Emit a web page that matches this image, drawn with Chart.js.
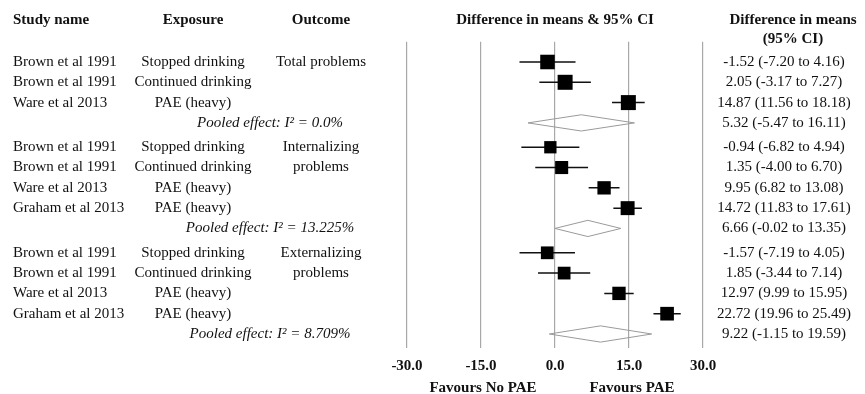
<!DOCTYPE html>
<html>
<head>
<meta charset="utf-8">
<script src="https://cdn.jsdelivr.net/npm/chart.js@4.4.1/dist/chart.umd.min.js"></script>
<style>
  html, body { margin: 0; padding: 0; background: #fff; }
  #wrap { width: 865px; height: 394px; }
</style>
</head>
<body>
<div id="wrap"><canvas id="forest" width="865" height="394"></canvas></div>
<script>
'use strict'

// study level data, in drawing order
const studyNames = ['Brown et al 1991', 'Brown et al 1991', 'Ware et al 2013',
    'Brown et al 1991', 'Brown et al 1991', 'Ware et al 2013', 'Graham et al 2013',
    'Brown et al 1991', 'Brown et al 1991', 'Ware et al 2013', 'Graham et al 2013'];
const exposures = ['Stopped drinking', 'Continued drinking', 'PAE (heavy)',
    'Stopped drinking', 'Continued drinking', 'PAE (heavy)', 'PAE (heavy)',
    'Stopped drinking', 'Continued drinking', 'PAE (heavy)', 'PAE (heavy)'];
const estimates = [-1.52, 2.05, 14.87, -0.94, 1.35, 9.95, 14.72, -1.57, 1.85, 12.97, 22.72];
const lower = [-7.20, -3.17, 11.56, -6.82, -4.00, 6.82, 11.83, -7.19, -3.44, 9.99, 19.96];
const upper = [4.16, 7.27, 18.18, 4.94, 6.70, 13.08, 17.61, 4.05, 7.14, 15.95, 25.49];
const weights = [0.97, 1.0, 1.0, 0.82, 0.87, 0.89, 0.93, 0.85, 0.85, 0.89, 0.91];

// outcome groups and pooled effects
const outcomes = [['Total problems'], ['Internalizing', 'problems'], ['Externalizing', 'problems']];
const groupSizes = [3, 4, 4];
const pooledEst = [5.32, 6.66, 9.22];
const pooledLower = [-5.47, -0.02, -1.15];
const pooledUpper = [16.11, 13.35, 19.59];
const pooledI2 = ['0.0%', '13.225%', '8.709%'];

const xTicks = [-30, -15, 0, 15, 30];

const SERIF = "'Liberation Serif', 'Times New Roman', serif";
const GROUP_GAP = 0.2;

// row position for every study and pooled line (a little extra space between groups)
const studyRows = [];
const pooledRows = [];
const groupStart = [];
let row = 0;
groupSizes.forEach((n, g) => {
    const shift = g * GROUP_GAP;
    groupStart.push(row + shift);
    for (let i = 0; i < n; i++) studyRows.push(shift + row++);
    pooledRows.push(shift + row++);
});

const squares = studyRows.map((r, i) => ({x: estimates[i], y: r}));
const whiskers = [];
studyRows.forEach((r, i) => {
    whiskers.push({x: lower[i], y: r}, {x: upper[i], y: r}, {x: null, y: null});
});
const diamonds = [];
pooledRows.forEach((r, i) => {
    diamonds.push({x: pooledLower[i], y: r}, {x: pooledEst[i], y: r - 0.4},
        {x: pooledUpper[i], y: r}, {x: pooledEst[i], y: r + 0.4},
        {x: pooledLower[i], y: r}, {x: null, y: null});
});

function fmt(v) {
    return v.toFixed(2);
}

const textPlugin = {
    id: 'forestText',
    afterDraw(chart) {
        const ctx = chart.ctx;
        const xs = chart.scales.x;
        const ys = chart.scales.y;
        ctx.save();
        ctx.fillStyle = '#111';
        ctx.textBaseline = 'middle';

        ctx.font = 'bold 15px ' + SERIF;
        ctx.textAlign = 'left';
        ctx.fillText('Study name', 13, 20);
        ctx.textAlign = 'center';
        ctx.fillText('Exposure', 193, 20);
        ctx.fillText('Outcome', 321, 20);
        ctx.fillText('Difference in means & 95% CI', (xs.left + xs.right) / 2, 20);
        ctx.fillText('Difference in means', 793, 20);
        ctx.fillText('(95% CI)', 793, 39);
        ctx.fillText('Favours No PAE', xs.getPixelForValue(-15) + 2, 388);
        ctx.fillText('Favours PAE', xs.getPixelForValue(15) + 3, 388);

        ctx.font = '15px ' + SERIF;
        studyRows.forEach((r, i) => {
            const py = ys.getPixelForValue(r);
            ctx.textAlign = 'left';
            ctx.fillText(studyNames[i], 13, py);
            ctx.textAlign = 'center';
            ctx.fillText(exposures[i], 193, py);
            ctx.fillText(fmt(estimates[i]) + ' (' + fmt(lower[i]) + ' to ' + fmt(upper[i]) + ')', 784, py);
        });
        outcomes.forEach((lines, g) => {
            lines.forEach((t, k) => {
                ctx.fillText(t, 321, ys.getPixelForValue(groupStart[g] + k));
            });
        });
        pooledRows.forEach((r, i) => {
            const py = ys.getPixelForValue(r);
            ctx.textAlign = 'center';
            ctx.font = '15px ' + SERIF;
            ctx.fillText(fmt(pooledEst[i]) + ' (' + fmt(pooledLower[i]) + ' to ' + fmt(pooledUpper[i]) + ')', 784, py);
            ctx.font = 'italic 15px ' + SERIF;
            ctx.fillText('Pooled effect: I\u00b2 = ' + pooledI2[i], 270, py);
        });
        ctx.restore();
    }
};

const ctx = document.getElementById('forest').getContext('2d');
const forest = new Chart(ctx, {
    type: 'scatter',
    data: {
        datasets: [{
            label: 'Studies',
            data: squares,
            pointStyle: 'rect',
            pointRadius: weights.map(w => 15 * w / Math.SQRT2),
            backgroundColor: '#000',
            borderColor: '#000',
            borderWidth: 0
        }, {
            label: 'CI',
            data: whiskers,
            showLine: true,
            spanGaps: false,
            pointRadius: 0,
            borderColor: '#111',
            borderWidth: 1.5
        }, {
            label: 'Pooled',
            data: diamonds,
            showLine: true,
            spanGaps: false,
            pointRadius: 0,
            borderColor: '#9a9a9a',
            borderWidth: 1
        }]
    },
    options: {
        responsive: false,
        animation: false,
        clip: false,
        layout: {
            padding: {left: 407, right: 162, top: 41.7, bottom: 0}
        },
        plugins: {
            legend: {display: false},
            tooltip: {enabled: false}
        },
        scales: {
            x: {
                type: 'linear',
                min: -30,
                max: 30,
                afterBuildTicks: scale => {
                    scale.ticks = xTicks.map(v => ({value: v}));
                },
                afterFit: scale => {
                    scale.height = 45.8;
                },
                ticks: {
                    callback: v => v.toFixed(1),
                    color: '#111',
                    font: {family: SERIF, size: 15, weight: 'bold'},
                    padding: 9,
                    maxRotation: 0
                },
                grid: {
                    color: '#a8a8a8',
                    lineWidth: 1.2,
                    drawTicks: false
                },
                border: {display: false}
            },
            y: {
                type: 'linear',
                display: false,
                reverse: true,
                min: -1,
                max: 14.1
            }
        }
    },
    plugins: [textPlugin]
});
</script>
</body>
</html>
